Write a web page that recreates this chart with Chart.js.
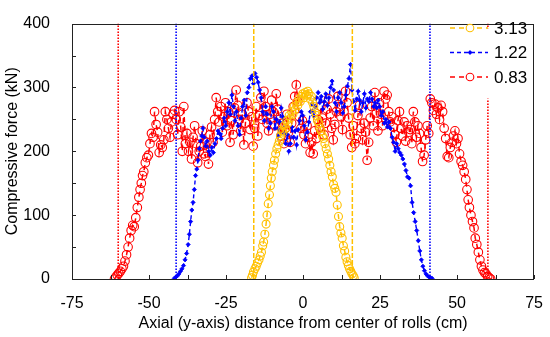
<!DOCTYPE html>
<html><head><meta charset="utf-8">
<script src="https://cdn.jsdelivr.net/npm/chart.js@4.4.0/dist/chart.umd.min.js"></script>
<style>html,body{margin:0;padding:0;background:#fff}canvas{display:block}</style>
</head><body>
<canvas id="c" width="550" height="337"></canvas>
<script>
// ---- data ----
const seriesNames = ['3.13', '1.22', '0.83'];

const yellowX = [-16.7,-16.4,-16.1,-15.6,-15.2,-14.8,-14.3,-13.9,-13.5,-13.1,-12.8,-12.4,-12.0,-11.7,-11.3,-10.9,-10.6,-10.3,-10.0,-9.6,-9.3,-8.9,-8.5,-8.1,-7.7,-7.3,-6.9,-6.5,-6.1,-5.7,-5.3,-4.9,-4.5,-4.1,-3.7,-3.3,-2.9,-2.5,-2.1,-1.7,-1.3,-0.9,-0.5,-0.1,0.3,0.7,1.1,1.5,1.9,2.3,2.7,3.1,3.5,3.9,4.3,4.7,5.1,5.5,5.9,6.3,6.7,7.1,7.5,7.9,8.3,8.7,9.1,9.5,9.9,10.3,10.7,11.1,11.5,11.9,12.3,12.7,13.1,13.5,13.9,14.3,14.7,15.1,15.5,15.9,16.3,16.6];
const yellowY = [2,6,11,16,20,25,30,36,42,52,58,70,86,100,118,132,146,158,168,178,186,196,204,210,216,224,232,230,240,236,248,244,256,252,262,258,270,266,276,272,282,278,286,290,284,292,288,294,290,282,286,276,270,262,256,248,244,236,232,224,220,212,204,196,188,178,168,160,148,142,136,116,98,82,72,64,52,44,34,27,21,16,12,8,5,2];

const blueX = [-41.8,-41.3,-40.8,-40.3,-39.8,-39.3,-38.8,-38.3,-37.8,-37.3,-36.9,-36.5,-36.1,-35.7,-35.3,-34.9,-34.5,-34.1,-33.7,-33.3,-32.9,-32.5,-32.1,-31.6,-31.1,-30.6,-30.1,-29.6,-29.1,-28.6,-28.1,-27.6,-27.1,-26.6,-26.1,-25.6,-25.1,-24.6,-24.1,-23.6,-23.1,-22.6,-22.1,-21.6,-21.1,-20.6,-20.1,-19.6,-19.1,-18.6,-18.1,-17.6,-17.1,-16.6,-16.1,-15.6,-15.1,-14.6,-14.1,-13.6,-13.1,-12.6,-12.1,-11.6,-11.1,-10.6,-10.1,-9.6,-9.1,-8.6,-8.1,-7.6,-7.1,-6.6,-6.1,-5.6,-5.1,-4.6,-4.1,-3.6,-3.1,-2.6,-2.1,-1.6,-1.1,-0.6,-0.1,0.4,0.9,1.4,1.9,2.4,2.9,3.4,3.9,4.4,4.9,5.4,5.9,6.4,6.9,7.4,7.9,8.4,8.9,9.4,9.9,10.4,10.9,11.4,11.9,12.4,12.9,13.4,13.9,14.4,14.9,15.4,15.9,16.4,16.9,17.4,17.9,18.4,18.9,19.4,19.9,20.4,20.9,21.4,21.9,22.4,22.9,23.4,23.9,24.4,24.9,25.4,25.9,26.4,26.9,27.4,27.9,28.4,28.9,29.4,29.9,30.4,30.9,31.4,31.9,32.4,32.9,33.4,33.9,34.4,34.9,35.4,35.9,36.4,36.9,37.4,37.9,38.4,38.9,39.4,39.9,40.4,40.9,41.4,41.9];
const blueY = [1,3,5,8,12,16,21,30,40,54,70,90,108,120,140,162,172,186,204,216,224,236,222,208,216,200,194,206,198,212,220,232,228,220,236,252,240,262,276,258,288,270,248,262,240,226,252,270,280,256,292,300,314,318,306,322,316,308,296,284,262,248,270,258,236,244,270,262,236,250,224,246,268,254,228,212,226,200,212,238,222,232,210,234,248,262,256,240,218,230,246,262,274,256,270,284,292,276,286,266,278,290,272,284,300,310,296,276,262,284,292,276,260,270,288,302,314,336,296,278,264,282,294,280,262,276,290,268,282,278,292,282,270,276,268,280,270,256,262,244,250,238,246,236,222,214,200,212,204,198,194,188,180,170,160,158,146,120,104,90,76,60,44,30,20,13,8,5,3,2,1];

const redX = [-61.2,-60.8,-60.3,-59.8,-59.3,-58.8,-58.3,-57.8,-57.3,-56.8,-56.3,-55.8,-55.3,-54.8,-54.3,-53.8,-53.3,-52.9,-52.5,-52.1,-51.7,-51.2,-50.7,-50.2,-49.7,-49.2,-48.7,-48.2,-47.7,-47.2,-46.7,-46.2,-45.7,-45.2,-44.7,-44.2,-43.7,-43.2,-42.7,-42.2,-41.7,-41.2,-40.7,-40.2,-39.7,-39.2,-38.7,-38.2,-37.7,-37.2,-36.7,-36.2,-35.7,-35.2,-34.7,-34.2,-33.7,-33.2,-32.7,-32.2,-31.7,-31.2,-30.7,-30.2,-29.7,-29.2,-28.7,-28.2,-27.7,-27.2,-26.7,-26.2,-25.7,-25.2,-24.7,-24.2,-23.7,-23.2,-22.7,-22.2,-21.7,-21.2,-20.7,-20.2,-19.7,-19.2,-18.7,-18.2,-17.7,-17.2,-16.7,-16.2,-15.7,-15.2,-14.7,-14.2,-13.7,-13.2,-12.7,-12.2,-11.7,-11.2,-10.7,-10.2,-9.7,-9.2,-8.7,-8.2,-7.7,-7.2,-6.7,-6.2,-5.7,-5.2,-4.7,-4.2,-3.7,-3.2,-2.7,-2.2,-1.7,-1.2,-0.7,-0.2,0.3,0.8,1.3,1.8,2.3,2.8,3.3,3.8,4.3,4.8,5.3,5.8,6.3,6.8,7.3,7.8,8.3,8.8,9.3,9.8,10.3,10.8,11.3,11.8,12.3,12.8,13.3,13.8,14.3,14.8,15.3,15.8,16.3,16.8,17.3,17.8,18.3,18.8,19.3,19.8,20.3,20.8,21.3,21.8,22.3,22.8,23.3,23.8,24.3,24.8,25.3,25.8,26.3,26.8,27.3,27.8,28.3,28.8,29.3,29.8,30.3,30.8,31.3,31.8,32.3,32.8,33.3,33.8,34.3,34.8,35.3,35.8,36.3,36.8,37.3,37.8,38.3,38.8,39.3,39.8,40.3,40.8,41.3,41.8,42.3,42.8,43.3,43.8,44.3,44.8,45.3,45.8,46.3,46.8,47.3,47.8,48.3,48.8,49.3,49.8,50.3,50.8,51.3,51.8,52.3,52.8,53.2,53.6,54.0,54.5,55.0,55.5,55.9,56.4,56.9,57.4,57.9,58.4,58.9,59.4,59.9,60.4,60.9];
const redY = [0,3,6,9,12,16,20,28,38,50,64,76,84,82,96,112,128,140,150,162,168,182,190,194,212,228,222,262,242,230,198,210,206,218,262,250,236,222,246,258,264,250,226,262,238,200,270,212,228,200,214,188,222,240,212,182,200,208,232,196,192,214,180,226,238,214,250,284,262,246,270,230,254,276,240,262,214,248,226,268,296,272,250,232,258,210,244,276,262,234,254,208,236,270,224,256,284,250,294,270,244,232,258,280,262,240,290,266,250,224,244,212,236,258,230,214,244,270,286,304,278,254,236,248,226,212,240,222,198,214,196,232,220,250,238,270,252,226,244,266,282,258,236,218,242,262,286,270,254,234,262,294,276,252,226,206,240,212,220,256,272,236,218,244,230,186,214,252,270,240,292,260,232,276,258,240,294,282,288,262,246,254,238,226,214,248,262,236,224,246,216,240,230,234,212,262,246,222,240,228,206,184,194,218,240,228,282,276,264,274,258,268,250,272,262,236,220,192,190,206,214,224,232,212,220,196,184,178,168,156,140,124,112,100,90,80,64,54,42,30,20,14,10,8,4,2,0];

// boundary (roll edge) lines for each series
const edgeX313 = [-16, 16];
const edgeX122 = [-41.2, 41.2];
const edgeX083 = [-60, 60];

const xMin = -75, xMax = 75, xStep = 25, xMinor = 12.5;
const yMin = 0, yMax = 400, yStep = 100, yMinor = 50;

// ---- styles ----
const YEL = '#ffc000', BLU = '#0000ff', RED = '#ff0000';
const FONT = "'Liberation Sans', Arial, sans-serif";

const pts = (xs, ys) => xs.map((x, i) => ({x, y: ys[i]}));
const vline = (x) => [{x, y: yMin}, {x, y: yMax}];

const datasets = [];
[[edgeX313, YEL, [5, 2], 1.5], [edgeX122, BLU, [1.5, 1.5], 1.6], [edgeX083, RED, [1.5, 1.5], 1.6]].forEach(([xs, col, dash, w]) => {
  xs.forEach(x => datasets.push({data: vline(x), borderColor: col, borderWidth: w, borderDash: dash, pointRadius: 0, showLine: true, fill: false}));
});
datasets.push({label: seriesNames[0], data: pts(yellowX, yellowY), borderColor: YEL, borderWidth: 1.5, borderDash: [5, 4], pointStyle: 'circle', pointRadius: 4, pointBorderWidth: 1.1, pointBorderColor: YEL, pointBackgroundColor: 'rgba(0,0,0,0)', showLine: true, fill: false});
datasets.push({label: seriesNames[1], data: pts(blueX, blueY), borderColor: BLU, borderWidth: 1.4, borderDash: [4, 3], pointStyle: 'rectRot', pointRadius: 2.1, pointBorderWidth: 0.8, pointBorderColor: BLU, pointBackgroundColor: BLU, showLine: true, fill: false});
datasets.push({label: seriesNames[2], data: pts(redX, redY), borderColor: RED, borderWidth: 1.5, borderDash: [5, 4], pointStyle: 'circle', pointRadius: 4.3, pointBorderWidth: 1.1, pointBorderColor: RED, pointBackgroundColor: 'rgba(0,0,0,0)', showLine: true, fill: false});

const framePlugin = {
  id: 'frame',
  afterDatasetsDraw(chart) {
    const {ctx, chartArea: a, scales: {x, y}} = chart;
    ctx.save();
    ctx.strokeStyle = '#222';
    ctx.lineWidth = 1;
    ctx.setLineDash([]);
    ctx.strokeRect(Math.round(a.left) + 0.5, Math.round(a.top) + 0.5, Math.round(a.right - a.left) - 1, Math.round(a.bottom - a.top));
    ctx.beginPath();
    for (let v = xMin; v <= xMax + 1e-9; v += xMinor) {
      const px = Math.round(x.getPixelForValue(v)) + 0.5;
      ctx.moveTo(px, a.bottom); ctx.lineTo(px, a.bottom - 4);
    }
    for (let v = yMin; v <= yMax + 1e-9; v += yMinor) {
      const py = Math.round(y.getPixelForValue(v)) + 0.5;
      ctx.moveTo(a.left, py); ctx.lineTo(a.left + 4, py);
    }
    ctx.stroke();
    // legend
    const lx = a.right - 92, ly = a.top + 5;
    ctx.fillStyle = '#fff';
    ctx.fillRect(lx - 2, ly, 90, 70);
    const entries = [[seriesNames[0], YEL, 'circle', [5, 4]], [seriesNames[1], BLU, 'rectRot', [4, 3]], [seriesNames[2], RED, 'circle', [5, 4]]];
    entries.forEach(([name, col, st, dash], i) => {
      const yy = 28 + i * 24.5;
      ctx.strokeStyle = col; ctx.lineWidth = 1.5; ctx.setLineDash(dash);
      ctx.beginPath(); ctx.moveTo(450, yy); ctx.lineTo(488, yy); ctx.stroke();
      ctx.setLineDash([]);
      if (st === 'circle') {
        ctx.fillStyle = '#fff';
        ctx.beginPath(); ctx.arc(470, yy, 3.8, 0, Math.PI * 2); ctx.fill(); ctx.lineWidth = 1.1; ctx.stroke();
      } else {
        ctx.fillStyle = col; ctx.beginPath();
        ctx.moveTo(470, yy - 2.4); ctx.lineTo(472.4, yy); ctx.lineTo(470, yy + 2.4); ctx.lineTo(467.6, yy); ctx.closePath(); ctx.fill();
      }
      ctx.fillStyle = '#000'; ctx.font = '17px ' + FONT; ctx.textBaseline = 'middle'; ctx.textAlign = 'left';
      ctx.fillText(name, 494, yy + 1);
    });
    ctx.restore();
  }
};

new Chart(document.getElementById('c'), {
  type: 'scatter',
  data: {datasets},
  options: {
    responsive: false, animation: false,
    layout: {padding: {top: 12, right: 14, left: 0, bottom: 0}},
    plugins: {legend: {display: false}, tooltip: {enabled: false}},
    scales: {
      x: {
        type: 'linear', min: xMin, max: xMax,
        ticks: {stepSize: xStep, color: '#000', font: {family: FONT, size: 16}, padding: 7, maxRotation: 0},
        grid: {display: false}, border: {display: false},
        title: {display: true, text: 'Axial (y-axis) distance from center of rolls (cm)', color: '#000', font: {family: FONT, size: 16}, padding: {top: 2, bottom: 4}},
        afterFit(s) { s.height = 58; }
      },
      y: {
        type: 'linear', min: yMin, max: yMax,
        ticks: {stepSize: yStep, color: '#000', font: {family: FONT, size: 16}, padding: 14},
        grid: {display: false}, border: {display: false},
        title: {display: true, text: 'Compressive force (kN)', color: '#000', font: {family: FONT, size: 16}, padding: {top: 3, bottom: 4}},
        afterFit(s) { s.width = 72; }
      }
    }
  },
  plugins: [framePlugin]
});
</script>
</body></html>
